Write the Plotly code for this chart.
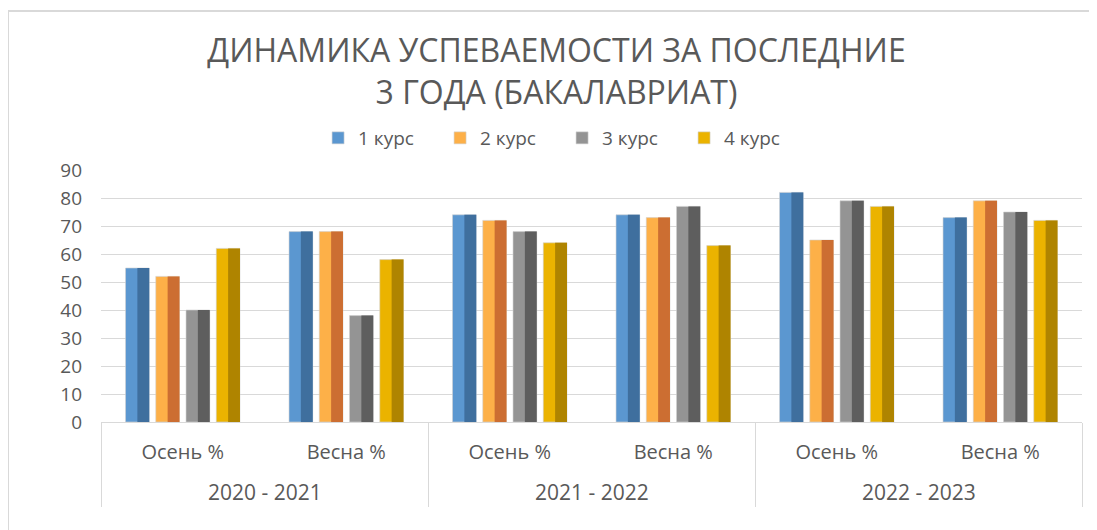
import plotly.graph_objects as go

years = ["2020 - 2021", "2020 - 2021", "2021 - 2022", "2021 - 2022", "2022 - 2023", "2022 - 2023"]
semesters = ["Осень %", "Весна %", "Осень %", "Весна %", "Осень %", "Весна %"]
series_names = ["1 курс", "2 курс", "3 курс", "4 курс"]
kurs1 = [55, 68, 74, 74, 82, 73]
kurs2 = [52, 68, 72, 73, 65, 79]
kurs3 = [40, 38, 68, 77, 79, 75]
kurs4 = [62, 58, 64, 63, 77, 72]
values = [kurs1, kurs2, kurs3, kurs4]

# category positions derived from the category list
xpos = list(range(len(semesters)))
year_groups = []
for i, y in enumerate(years):
    if not year_groups or year_groups[-1][0] != y:
        year_groups.append([y, i, i])
    else:
        year_groups[-1][2] = i
group_centers = [(a + b) / 2 for _, a, b in year_groups]
group_bounds = [year_groups[0][1] - 0.5] + [b + 0.5 for _, _, b in year_groups]

light = ["#5B97D0", "#FDB048", "#949494", "#EBB300"]
dark = ["#3F6F9E", "#CC6E32", "#5E5E5E", "#AF8400"]

bw = 0.145
gap = 0.04
start = -(4 * bw + 3 * gap) / 2

fig = go.Figure()
for i, (name, vals) in enumerate(zip(series_names, values)):
    off = start + i * (bw + gap)
    fig.add_trace(go.Bar(
        x=xpos, y=vals, name=name, legendgroup=name,
        width=bw, offset=off,
        marker=dict(color=light[i], line=dict(color="#D0D0D0", width=0.6)),
    ))
    fig.add_trace(go.Bar(
        x=xpos, y=vals, name=name, legendgroup=name, showlegend=False,
        width=bw / 2, offset=off + bw / 2,
        marker=dict(color=dark[i], line=dict(width=0)),
        hoverinfo="skip",
    ))

annotations = [
    dict(x=c, y=-0.278, xref="x", yref="paper", text=g[0], showarrow=False,
         xanchor="center", yanchor="middle", font=dict(size=21, color="#595959"))
    for c, g in zip(group_centers, year_groups)
]

fig.update_layout(
    width=1097, height=530,
    barmode="overlay",
    paper_bgcolor="white", plot_bgcolor="white",
    margin=dict(l=93, r=23, t=162, b=116),
    font=dict(family="Open Sans, sans-serif", color="#595959"),
    title=dict(
        text="ДИНАМИКА УСПЕВАЕМОСТИ ЗА ПОСЛЕДНИЕ<br>3 ГОДА (БАКАЛАВРИАТ)",
        x=0.5, xanchor="center", y=0.898, yanchor="middle",
        font=dict(size=32, color="#595959", family="Open Sans, sans-serif"),
    ),
    legend=dict(
        orientation="h", x=0.47, xanchor="center", y=1.127, yanchor="middle",
        font=dict(size=19, color="#595959"), traceorder="normal",
        itemwidth=30, entrywidth=77, entrywidthmode="pixels",
    ),
    yaxis=dict(
        range=[0, 90], dtick=10, showgrid=True, gridcolor="#D9D9D9", gridwidth=1,
        zeroline=False, showline=False,
        tickfont=dict(size=19, color="#595959"), ticks="",
        ticklabelstandoff=18,
    ),
    xaxis=dict(
        range=[group_bounds[0], group_bounds[-1]],
        tickmode="array", tickvals=xpos, ticktext=semesters,
        showline=True, linecolor="#D9D9D9", linewidth=1,
        showgrid=False, zeroline=False, ticks="",
        ticklabelstandoff=12,
        tickfont=dict(size=20, color="#595959"),
        minor=dict(tickmode="array", tickvals=group_bounds, ticks="outside",
                   ticklen=84, tickcolor="#D9D9D9", tickwidth=1, showgrid=False),
    ),
    annotations=annotations,
    shapes=[dict(type="rect", xref="paper", yref="paper", x0=-0.0948, x1=1.1, y0=-0.55, y1=1.631,
                 line=dict(color="#D9D9D9", width=2))],
)

fig.write_html("out.html")
